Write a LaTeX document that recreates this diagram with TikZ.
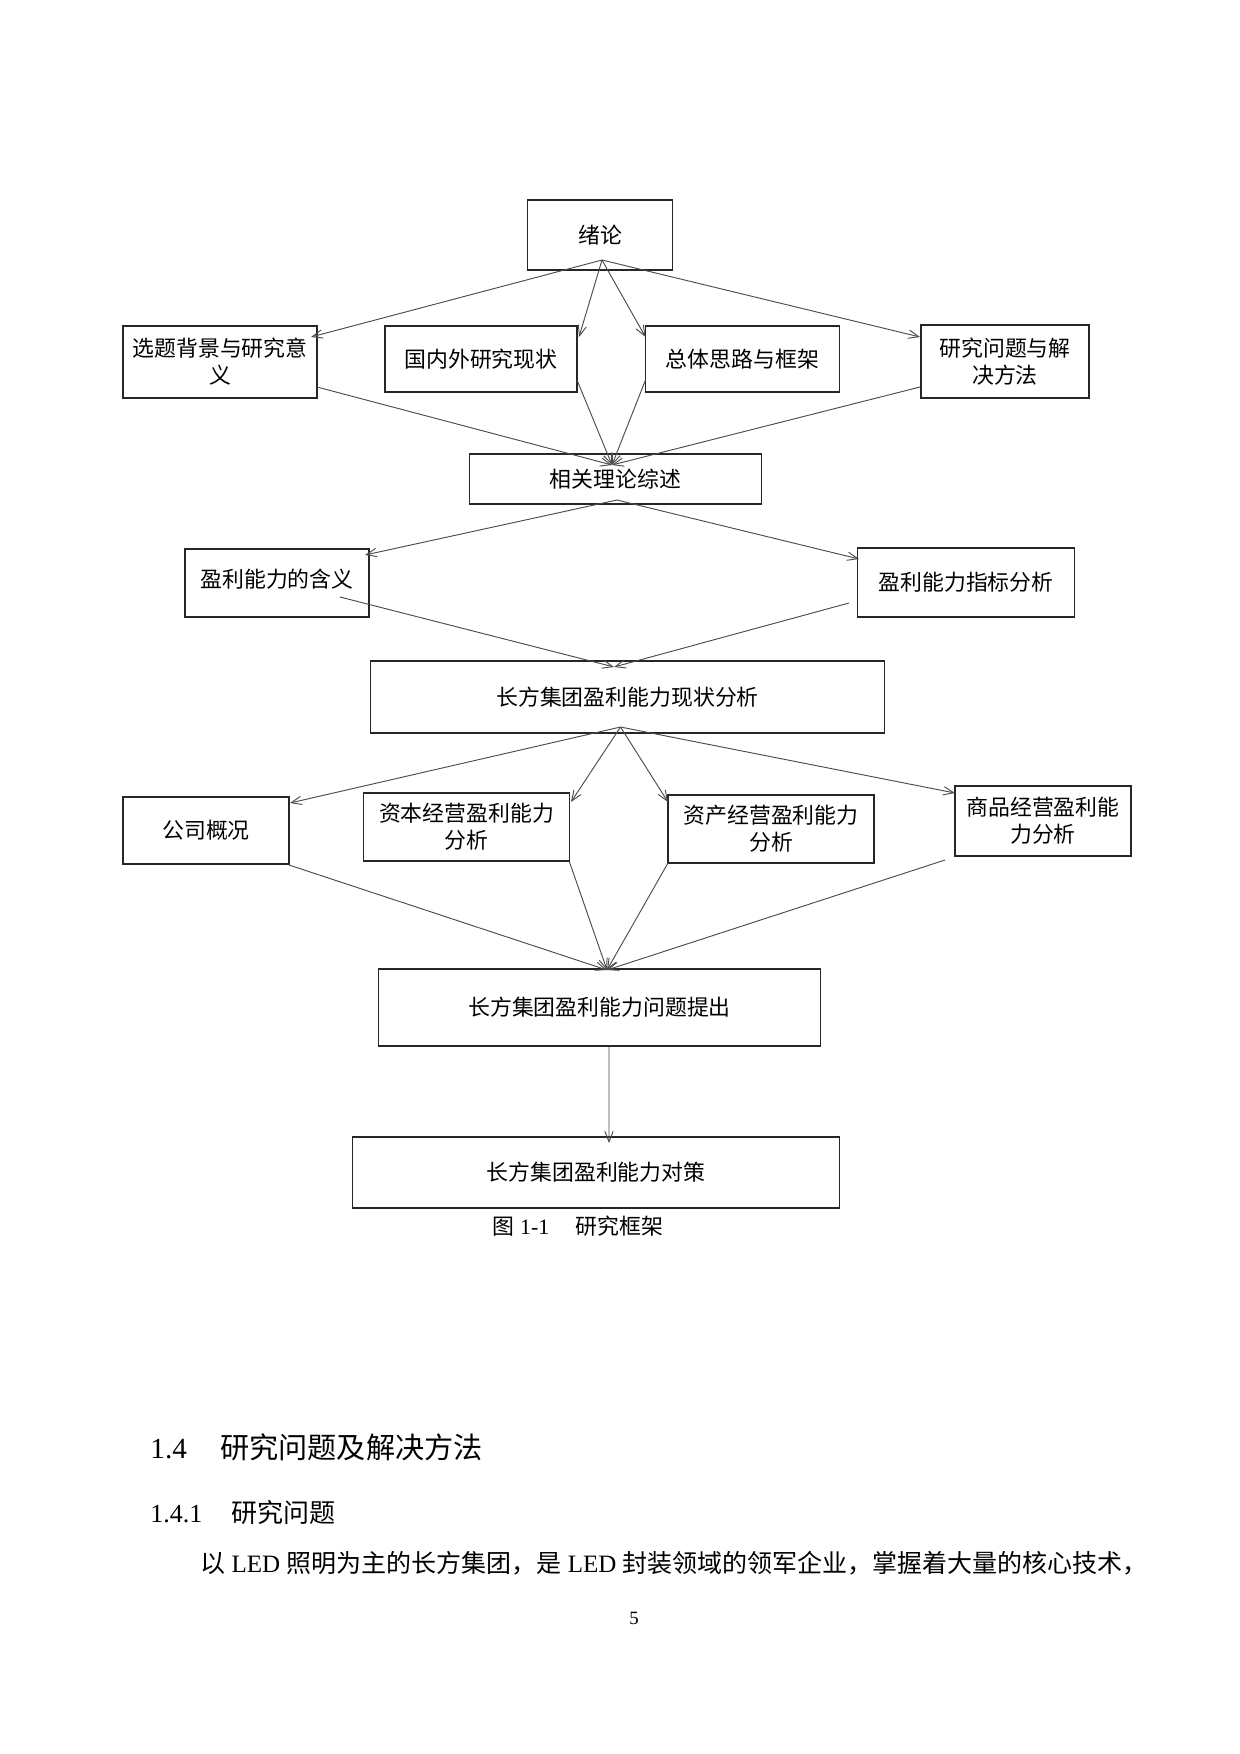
\documentclass[tikz,border=0pt]{standalone}
\usepackage{fontspec}
\setmainfont{Liberation Serif}
\newfontfamily\cjk{Noto Sans CJK SC}
\usetikzlibrary{arrows.meta}
\def\px{0.48pt}

\begin{document}
\begin{tikzpicture}[x=0.48pt,y=-0.48pt,
        box/.style 2 args={draw=black!85,line width=.5pt,inner sep=0pt,outer sep=0pt,align=center,
            minimum width=#1*\px,minimum height=#2*\px,font=\cjk\fontsize{10.5pt}{13pt}\selectfont},
        link/.style={draw=black!70,line width=.45pt,-{Straight Barb[length=5pt,width=4pt]}},
        body/.style={anchor=west,inner sep=0pt}]
    \useasboundingbox[fill=white] (0,0) rectangle (1240,1754);
    % Boxes
    \node[box={145}{70}] (xl) at (600,235) {绪论};
    \node[box={194}{72}] (bg) at (220,362) {选题背景与研究意\\义};
    \node[box={192}{66}] (gn) at (481,359) {国内外研究现状};
    \node[box={194}{66}] (zt) at (742.5,359) {总体思路与框架};
    \node[box={168}{73}] (wt) at (1005,361.5) {研究问题与解\\决方法};
    \node[box={292}{50}] (xg) at (615.5,479) {相关理论综述};
    \node[box={184}{68}] (hy) at (277,583) {\raisebox{4.8pt}{盈利能力的含义}};
    \node[box={217}{69}] (zb) at (966,582.5) {盈利能力指标分析};
    \node[box={514}{72}] (xz) at (627.5,697) {长方集团盈利能力现状分析};
    \node[box={166}{67}] (gs) at (206,830.5) {公司概况};
    \node[box={206}{68}] (zbjy) at (466.5,827) {资本经营盈利能力\\分析};
    \node[box={206}{68}] (zcjy) at (771,829) {资产经营盈利能力\\分析};
    \node[box={176}{70}] (spjy) at (1043,821) {商品经营盈利能\\力分析};
    \node[box={442}{77}] (tc) at (599.5,1007.5) {长方集团盈利能力问题提出};
    \node[box={487}{71}] (dc) at (596,1172.5) {长方集团盈利能力对策};
    % Hubs where the arrows meet
    \coordinate (s1) at (602,260);
    \coordinate (j1) at (612,465);
    \coordinate (s2) at (617,500);
    \coordinate (j2) at (614,667);
    \coordinate (s3) at (620.5,727);
    \coordinate (j3) at (607,970);
    % Arrows
    \foreach \a/\dx/\dy in {bg.north east/-6/11, gn.north east/2/11, zt.north west/0/11, wt.north west/-1/12}
        \draw[link] (s1) -- ([shift={(\dx,\dy)}]\a);
    \foreach \a/\dx/\dy in {bg.south east/0/-11, gn.south east/0/-12, zt.south west/0/-12, wt.south west/-1/-11}
        \draw[link] ([shift={(\dx,\dy)}]\a) -- (j1);
    \draw[link] (s2) -- ([shift={(-4,6)}]hy.north east);
    \draw[link] (s2) -- ([shift={(1.5,11)}]zb.north west);
    \draw[link] ([shift={(-29,-20)}]hy.south east) -- (j2);
    \draw[link] ([shift={(-8.5,-14)}]zb.south west) -- (j2);
    \foreach \a/\dx/\dy in {gs.north east/1/6, zbjy.north east/1.5/9, zcjy.north west/0/7, spjy.north west/0/7}
        \draw[link] (s3) -- ([shift={(\dx,\dy)}]\a);
    \foreach \a/\dx/\dy in {gs.south east/0/1, zbjy.south east/0/1, zcjy.south west/0/0, spjy.south west/-10/4}
        \draw[link] ([shift={(\dx,\dy)}]\a) -- (j3);
    \draw[link] ([shift={(9.5,1)}]tc.south) -- ([shift={(13,6)}]dc.north);
    % Caption and text below
    \node[inner sep=0pt,font=\fontsize{10.5pt}{13pt}\selectfont] (cap) at (578,1226) {{\cjk 图} 1-1\hspace{1.2em}{\cjk 研究框架}};
    \node[body,font=\fontsize{14pt}{17pt}\selectfont] (sec) at (150,1447) {1.4\hspace{16pt}{\cjk 研究问题及解决方法}};
    \node[body,font=\fontsize{12.5pt}{15pt}\selectfont] (subsec) at (150,1513) {1.4.1\hspace{14pt}{\cjk 研究问题}};
    \node[body,font=\fontsize{12pt}{15pt}\selectfont] (para) at (200,1563) {{\cjk 以} LED {\cjk 照明为主的长方集团，是} LED {\cjk 封装领域的领军企业，掌握着大量的核心技术，}};
    \node[inner sep=0pt,font=\fontsize{9pt}{11pt}\selectfont] (pg) at (634,1618) {5};
\end{tikzpicture}
\end{document}
